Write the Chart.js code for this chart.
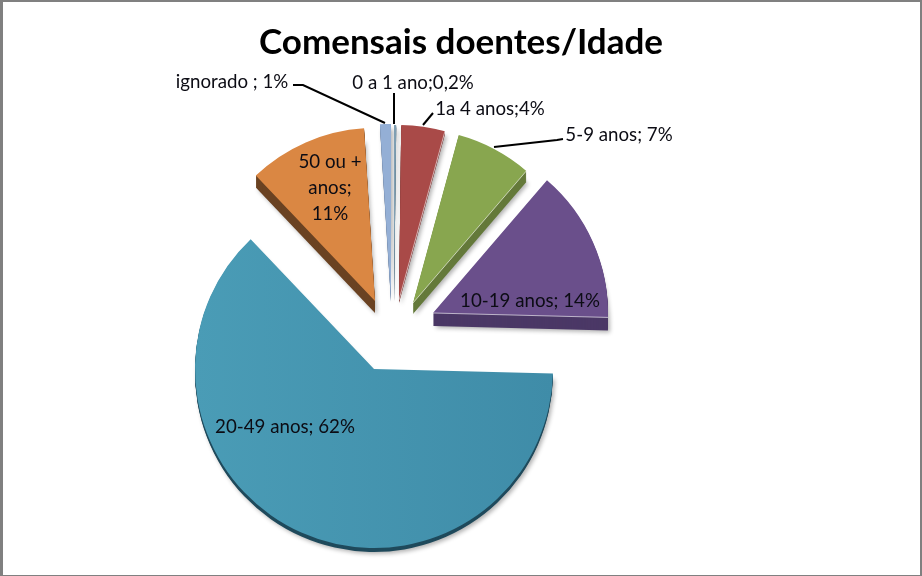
<!DOCTYPE html>
<html>
<head>
<meta charset="utf-8">
<title>Comensais doentes/Idade</title>
<script src="https://cdn.jsdelivr.net/npm/chart.js@4"></script>
<style>
    html, body { margin: 0; background: #fff; overflow: hidden; }
    #c { position: absolute; left: 0; top: 0; }
    #frame { position: absolute; inset: 0; box-sizing: border-box; pointer-events: none;
             border: solid #808080; border-width: 2px 2px 1px 3px; }
</style>
</head>
<body>
<canvas id="c" width="922" height="576"></canvas>
<div id="frame"></div>
<script>
const categories = ['0 a 1 ano', '1a 4 anos', '5-9 anos', '10-19 anos', '20-49 anos', '50 ou + anos', 'ignorado'];
const percents = [0.2, 4, 7, 14, 62, 11, 1];
const labelLines = [['0 a 1 ano;0,2%'], ['1a 4 anos;4%'], ['5-9 anos; 7%'], ['10-19 anos; 14%'],
                    ['20-49 anos; 62%'], ['50 ou +', 'anos;', '11%'], ['ignorado ; 1%']];

// look of each slice
const colors = ['#7f9fb3', '#a94a48', '#88a64f', '#6a4f8b', '#4496af', '#da8743', '#94afd5'];
const sideColors = ['#5f7785', '#7a3533', '#64793a', '#4b3866', '#1f4a5c', '#6a4222', '#6e84a3'];
const depth = [3, 3, 11, 13, 4, 12, 3];
const radii = [175, 175, 174, 175, 179, 173, 175];
// where the tip of each exploded slice sits
const tips = [[394, 300], [399, 300], [413, 303], [433, 313], [374, 369], [375, 301], [391, 299]];
const lightEdge = [false, true, true, true, false, false, false];

// label centres and leader lines
const labelPos = [[413, 83], [490, 109], [619, 135], [530, 301], [285, 427], [330, 162], [232, 82]];
const leaders = [
    [[394, 93], [394, 124]],
    [[433, 113], [423, 125]],
    [[563, 139], [557, 140], [494, 147]],
    null, null, null,
    [[293, 85], [303, 85], [385, 123]]
];

function sector(ctx, a, dy) {
    ctx.beginPath();
    ctx.moveTo(a.x, a.y + dy);
    ctx.arc(a.x, a.y + dy, a.outerRadius, a.startAngle, a.endAngle);
    ctx.closePath();
}

const explodePie = {
    id: 'explodePie',
    afterDatasetsUpdate(chart) {
        chart.getDatasetMeta(0).data.forEach((a, i) => {
            a.x = tips[i][0];
            a.y = tips[i][1];
            a.outerRadius = radii[i];
        });
    },
    beforeDatasetsDraw(chart) {
        const ctx = chart.ctx;
        chart.getDatasetMeta(0).data.forEach((a, i) => {
            ctx.save();
            ctx.shadowColor = 'rgba(0,0,0,0.3)';
            ctx.shadowBlur = 4;
            ctx.shadowOffsetX = 2;
            ctx.shadowOffsetY = 2;
            ctx.fillStyle = sideColors[i];
            sector(ctx, a, depth[i]);
            ctx.fill();
            ctx.restore();
            ctx.fillStyle = sideColors[i];
            for (let k = depth[i] - 1; k > 0; k--) {
                sector(ctx, a, k);
                ctx.fill();
            }
        });
    },
    afterDatasetsDraw(chart) {
        const ctx = chart.ctx;
        const arcs = chart.getDatasetMeta(0).data;
        ctx.save();
        ctx.strokeStyle = 'rgba(255,255,255,0.6)';
        ctx.lineWidth = 1;
        arcs.forEach((a, i) => {
            if (!lightEdge[i]) return;
            ctx.beginPath();
            ctx.moveTo(a.x, a.y);
            ctx.lineTo(a.x + Math.cos(a.endAngle) * a.outerRadius, a.y + Math.sin(a.endAngle) * a.outerRadius);
            ctx.stroke();
        });
        ctx.restore();

        // leader lines
        ctx.save();
        ctx.strokeStyle = '#000';
        ctx.lineWidth = 2;
        leaders.forEach(l => {
            if (!l) return;
            ctx.beginPath();
            l.forEach((p, j) => j ? ctx.lineTo(p[0], p[1]) : ctx.moveTo(p[0], p[1]));
            ctx.stroke();
        });
        ctx.restore();

        // data labels
        ctx.save();
        ctx.font = '18.7px Lato';
        ctx.fillStyle = '#0c0c14';
        ctx.textAlign = 'center';
        ctx.textBaseline = 'middle';
        labelLines.forEach((lines, i) => {
            lines.forEach((t, j) => ctx.fillText(t, labelPos[i][0], labelPos[i][1] + j * 26));
        });
        ctx.restore();
    }
};

const cv = document.getElementById('c');
const g = cv.getContext('2d').createLinearGradient(195, 0, 553, 0);
g.addColorStop(0, '#4a9cb6');
g.addColorStop(1, '#3f8ca8');
const fills = colors.slice();
fills[4] = g;

new Chart(cv, {
    type: 'pie',
    data: {
        labels: categories,
        datasets: [{ data: percents, backgroundColor: fills, borderWidth: 0 }]
    },
    options: {
        responsive: false,
        animation: false,
        plugins: {
            legend: { display: false },
            tooltip: { enabled: false },
            title: {
                display: true,
                text: 'Comensais doentes/Idade',
                color: '#000',
                font: { family: 'Lato', size: 35, weight: 'bold' },
                padding: { top: 22, bottom: 5 }
            }
        }
    },
    plugins: [explodePie]
});
</script>
</body>
</html>
